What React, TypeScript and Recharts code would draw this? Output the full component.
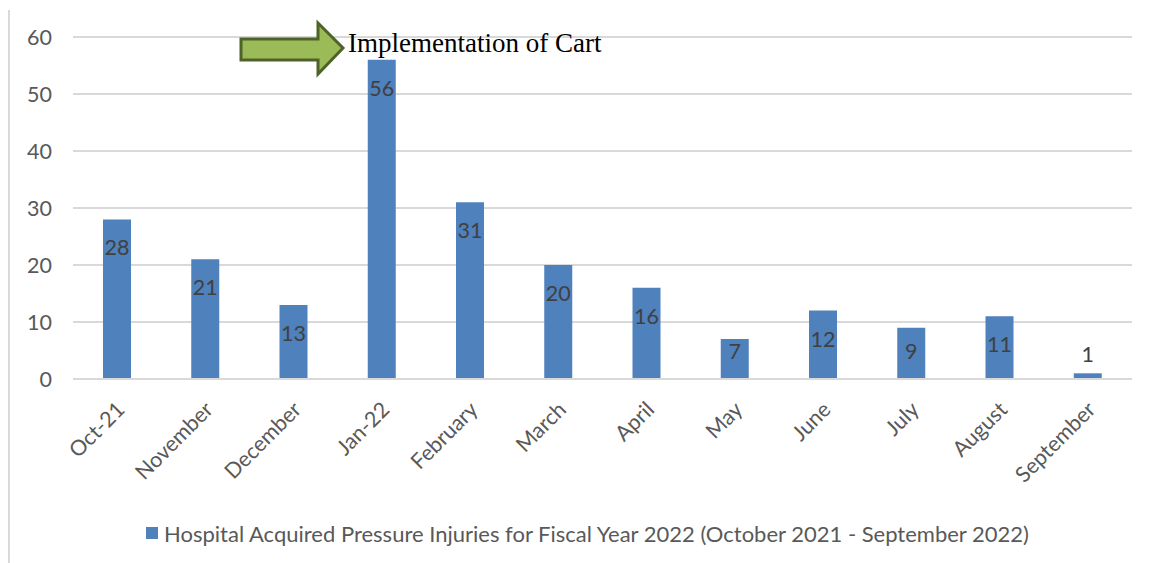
import { BarChart, Bar, XAxis, YAxis, CartesianGrid, Legend, LabelList } from 'recharts';

// Monthly pressure injury counts, FY2022
const months = ['Oct-21', 'November', 'December', 'Jan-22', 'February', 'March', 'April', 'May', 'June', 'July', 'August', 'September'];
const injuries = [28, 21, 13, 56, 31, 20, 16, 7, 12, 9, 11, 1];
const yTicks = [0, 10, 20, 30, 40, 50, 60];

const seriesName = 'Hospital Acquired Pressure Injuries for Fiscal Year 2022 (October 2021 - September 2022)';
const annotation = 'Implementation of Cart';

const chartData = months.map((m, i) => ({ month: m, count: injuries[i] }));

const FONT = 'Lato, "Open Sans", sans-serif';
const BAR = '#4F81BD';

const MonthTick = ({ x, y, payload }: any) => (
  <text
    x={x + 9}
    y={y + 24}
    transform={`rotate(-45, ${x + 9}, ${y + 24})`}
    textAnchor="end"
    fontFamily={FONT}
    fontSize={21.5}
    fill="#595959"
  >
    {payload.value}
  </text>
);

// Excel style: inside the top of the bar, above it when the bar is too short
const ValueLabel = ({ x, y, width, height, value }: any) => {
  const cx = x + width / 2;
  let cy;
  if (height < 30) cy = y - 19;
  else cy = Math.min(y + 28, y + height - 28);
  return (
    <text x={cx} y={cy} dy={8} textAnchor="middle" fontFamily={FONT} fontSize={21.5} fill="#404040">
      {value}
    </text>
  );
};

const LegendBox = () => (
  <div style={{ height: 52, paddingLeft: 146, paddingTop: 9, boxSizing: 'border-box', fontFamily: FONT, fontSize: 22, color: '#595959' }}>
    <div style={{ display: 'flex', alignItems: 'center', height: 26 }}>
      <span style={{ width: 12, height: 12, background: BAR, marginRight: 6, display: 'inline-block' }} />
      <span style={{ whiteSpace: 'nowrap' }}>{seriesName}</span>
    </div>
  </div>
);

export default function App() {
  return (
    <div style={{ position: 'absolute', left: 0, top: 0, width: 1153, height: 563, background: '#fff', overflow: 'hidden' }}>
      <div style={{ position: 'absolute', left: 8, top: 10, width: 2, height: 553, background: '#d9d9d9' }} />
      <BarChart
        width={1153}
        height={563}
        data={chartData}
        margin={{ top: 37, right: 21, left: 0, bottom: 0 }}
      >
        <CartesianGrid vertical={false} stroke="#d9d9d9" strokeWidth={2} />
        <XAxis
          dataKey="month"
          interval={0}
          height={132}
          tick={<MonthTick />}
          tickLine={false}
          axisLine={{ stroke: '#d9d9d9', strokeWidth: 2 }}
        />
        <YAxis
          width={73}
          domain={[0, 60]}
          ticks={yTicks}
          tickMargin={15}
          tickLine={false}
          axisLine={false}
          tick={{ fontFamily: FONT, fontSize: 21.5, fill: '#595959' }}
        />
        <Legend verticalAlign="bottom" content={<LegendBox />} />
        <Bar dataKey="count" name={seriesName} fill={BAR} barSize={28} isAnimationActive={false}>
          <LabelList dataKey="count" content={<ValueLabel />} />
        </Bar>
      </BarChart>
      <svg style={{ position: 'absolute', left: 0, top: 0 }} width={1153} height={563}>
        <polygon
          points="241,39 318,39 318,23 343,48 318,74 318,60 241,60"
          fill="#9BBB59"
          stroke="#4F6228"
          strokeWidth={3}
          strokeLinejoin="miter"
        />
        <text x={348} y={52} fontFamily='"Liberation Serif", "Times New Roman", serif' fontSize={27} fill="#000">
          {annotation}
        </text>
      </svg>
    </div>
  );
}
